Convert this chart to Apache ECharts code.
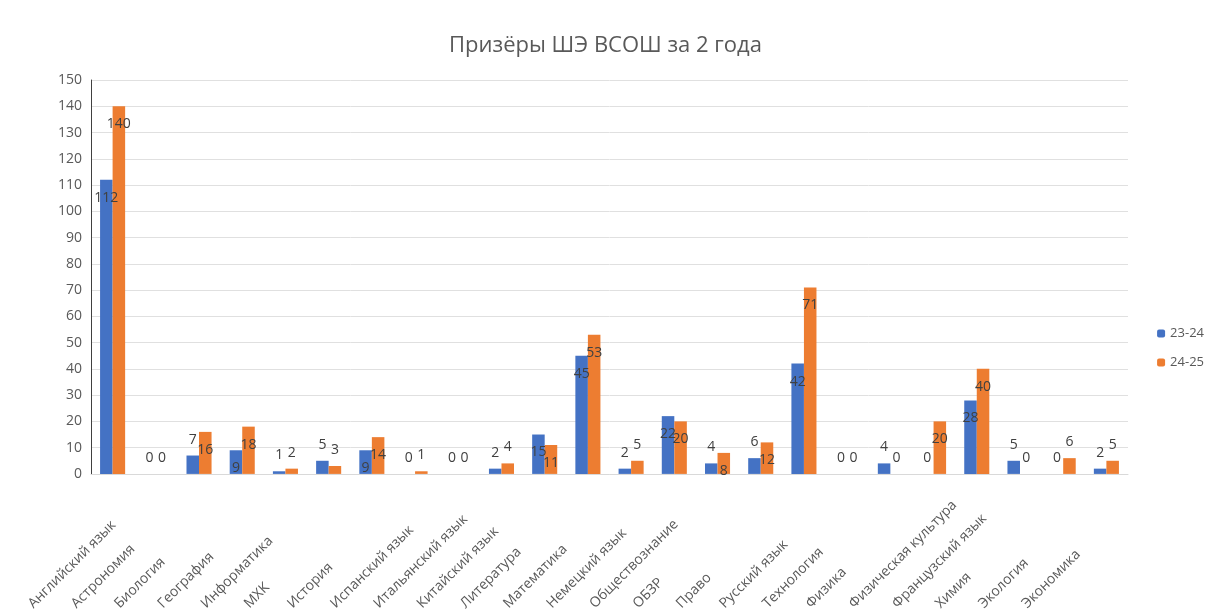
<!DOCTYPE html>
<html><head><meta charset="utf-8">
<script src="https://cdn.jsdelivr.net/npm/echarts@6/dist/echarts.min.js"></script>
<style>html,body{margin:0;padding:0;background:#fff}#c{width:1211px;height:613px}</style>
</head><body><div id="c"></div>
<script>
const categories = ["Английский язык","Астрономия","Биология","География","Информатика","МХК","История","Испанский язык","Итальянский язык","Китайский язык","Литература","Математика","Немецкий язык","Обществознание","ОБЗР","Право","Русский язык","Технология","Физика","Физическая культура","Французский язык","Химия","Экология","Экономика"];
const s2324 = [112,0,7,9,1,5,9,0,0,2,15,45,2,22,4,6,42,0,4,0,28,5,0,2];
const s2425 = [140,0,16,18,2,3,14,1,0,4,11,53,5,20,8,12,71,0,0,20,40,0,6,5];
const yTicks = {min:0, max:150, interval:10};

function mk(vals){
  return vals.map(v => ({value:v, label: v>=8 ? {position:'insideTop', distance:11} : {position:'top', distance:9}}));
}
const chart = echarts.init(document.getElementById('c'));
chart.setOption({
  animation:false,
  title:{text:'Призёры ШЭ ВСОШ за 2 года', left:'center', top:30,
    textStyle:{fontFamily:'Open Sans', fontSize:22, fontWeight:'normal', color:'#595959'}},
  legend:{orient:'vertical', right:2, top:322, itemWidth:8, itemHeight:8, itemGap:16,
    textStyle:{fontFamily:'Open Sans', fontSize:13, color:'#595959'},
    data:['23-24','24-25']},
  grid:{left:91, right:83, top:80, bottom:138},
  xAxis:{type:'category', data:categories,
    axisLine:{lineStyle:{color:'#d9d9d9'}}, axisTick:{show:false},
    axisLabel:{rotate:45, interval:0, align:'left', verticalAlign:'middle', padding:[0,0,0,-116],
      fontFamily:'Open Sans', fontSize:14, color:'#595959', margin:50}},
  yAxis:{type:'value', min:yTicks.min, max:yTicks.max, interval:yTicks.interval,
    axisLine:{show:true, lineStyle:{color:'#404040'}}, axisTick:{show:false},
    splitLine:{lineStyle:{color:'#e0e0e0'}},
    axisLabel:{fontFamily:'Open Sans', fontSize:14, color:'#595959', margin:9}},
  series:[
    {name:'23-24', type:'bar', data:mk(s2324), itemStyle:{color:'#4472C4'}, barGap:'0%', barCategoryGap:'42%',
      label:{show:true, fontFamily:'Open Sans', fontSize:14, color:'#404040'}},
    {name:'24-25', type:'bar', data:mk(s2425), itemStyle:{color:'#ED7D31'},
      label:{show:true, fontFamily:'Open Sans', fontSize:14, color:'#404040'}}
  ]
});
</script></body></html>
